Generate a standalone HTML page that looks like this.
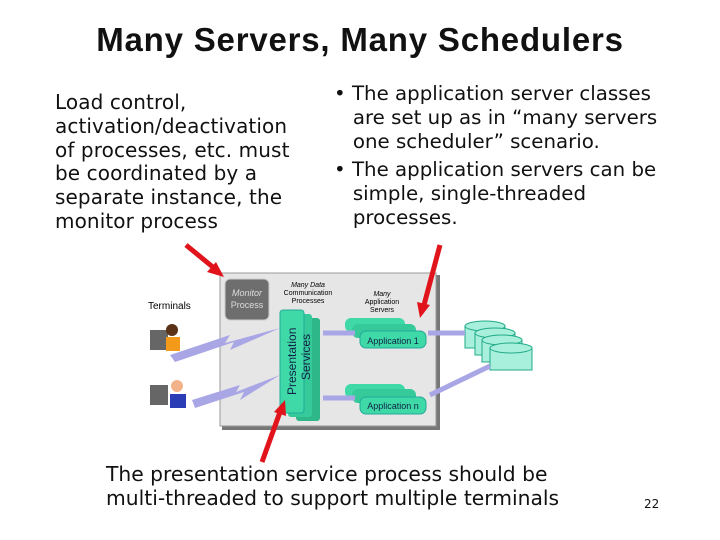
<!DOCTYPE html>
<html><head><style>
body{margin:0;width:720px;height:540px;background:#fff;position:relative;overflow:hidden;font-family:"DejaVu Sans","Liberation Sans",sans-serif;color:#111}
.t{position:absolute;white-space:nowrap}
</style></head><body>
<div class="t" style="left:0;width:720px;text-align:center;top:21px;font-size:33px;font-weight:bold;font-family:'Liberation Sans',sans-serif;letter-spacing:0.8px">Many Servers, Many Schedulers</div>
<div class="t" style="left:55px;top:91px;font-size:20px;line-height:23.8px;letter-spacing:0.1px">Load control,<br>activation/deactivation<br>of processes, etc. must<br>be coordinated by a<br>separate instance, the<br>monitor process</div>
<div class="t" style="left:334px;top:82px;font-size:19.8px;line-height:24px">•&nbsp;The application server classes<br>&nbsp;&nbsp;&nbsp;are set up as in “many servers<br>&nbsp;&nbsp;&nbsp;one scheduler” scenario.</div>
<div class="t" style="left:334px;top:158px;font-size:19.8px;line-height:24px">•&nbsp;The application servers can be<br>&nbsp;&nbsp;&nbsp;simple, single-threaded<br>&nbsp;&nbsp;&nbsp;processes.</div>
<div class="t" style="left:106px;top:462px;font-size:20.3px;line-height:24px">The presentation service process should be<br>multi-threaded to support multiple terminals</div>
<div class="t" style="left:644px;top:497px;font-size:12px">22</div>
<svg width="720" height="540" style="position:absolute;left:0;top:0" font-family="Liberation Sans,sans-serif">
<rect x="222" y="275" width="218" height="155" fill="#777"/>
<rect x="220" y="273" width="216" height="153" fill="#e6e6e6" stroke="#999"/>
<rect x="225" y="279" width="44" height="41" rx="5" fill="#6e6e6e" stroke="#ccc"/>
<text x="247" y="296" font-size="9" fill="#ddd" text-anchor="middle" font-style="italic">Monitor</text>
<text x="247" y="308" font-size="9" fill="#ddd" text-anchor="middle">Process</text>
<text x="308" y="287" font-size="7" text-anchor="middle" font-style="italic">Many Data</text>
<text x="308" y="295" font-size="7" text-anchor="middle">Communication</text>
<text x="308" y="303" font-size="7" text-anchor="middle">Processes</text>
<text x="382" y="296" font-size="7" text-anchor="middle" font-style="italic">Many</text>
<text x="382" y="304" font-size="7" text-anchor="middle">Application</text>
<text x="382" y="312" font-size="7" text-anchor="middle">Servers</text>
<text x="148" y="309" font-size="10">Terminals</text>
<rect x="296" y="318" width="24" height="103" rx="3" fill="#2eb88a"/>
<rect x="288" y="314" width="24" height="103" rx="3" fill="#36c99a"/>
<rect x="280" y="310" width="24" height="103" rx="3" fill="#3fd9a8" stroke="#2a9"/>
<text transform="translate(296,395) rotate(-90)" font-size="12" fill="#124">Presentation</text>
<text transform="translate(310,380) rotate(-90)" font-size="12" fill="#124">Services</text>
<rect x="345" y="318" width="60" height="14" rx="6" fill="#3fd9a8"/>
<rect x="352" y="324" width="64" height="14" rx="6" fill="#36c99a"/>
<rect x="360" y="331" width="66" height="17" rx="6" fill="#3fd9a8" stroke="#2a9"/>
<text x="393" y="344" font-size="9" text-anchor="middle" fill="#124">Application 1</text>
<rect x="345" y="384" width="60" height="14" rx="6" fill="#3fd9a8"/>
<rect x="352" y="389" width="64" height="14" rx="6" fill="#36c99a"/>
<rect x="360" y="397" width="66" height="17" rx="6" fill="#3fd9a8" stroke="#2a9"/>
<text x="393" y="409" font-size="9" text-anchor="middle" fill="#124">Application n</text>
<g fill="#a8f0dc" stroke="#2a8">
<rect x="465" y="326" width="40" height="22"/><ellipse cx="485" cy="326" rx="20" ry="5"/>
<rect x="475" y="333" width="40" height="22"/><ellipse cx="495" cy="333" rx="20" ry="5"/>
<rect x="482" y="340" width="40" height="22"/><ellipse cx="502" cy="340" rx="20" ry="5"/>
<rect x="490" y="348" width="42" height="22"/><ellipse cx="511" cy="348" rx="21" ry="5"/>
</g>
<g stroke="#a9a6e6" stroke-width="5" fill="none">
<line x1="323" y1="333" x2="355" y2="333"/><line x1="323" y1="398" x2="355" y2="398"/>
<line x1="428" y1="333" x2="465" y2="333"/><line x1="430" y1="395" x2="490" y2="366"/>
</g>
<polygon points="170,355 230,335 225,343 280,328 230,350 234,342 175,362" fill="#a9a6e6"/>
<polygon points="192,400 240,385 236,392 280,375 240,400 244,392 195,408" fill="#a9a6e6"/>
<rect x="150" y="330" width="18" height="20" fill="#666"/><circle cx="172" cy="330" r="6" fill="#5a3218"/><rect x="166" y="337" width="14" height="14" fill="#f39a1b"/>
<rect x="150" y="385" width="18" height="20" fill="#666"/><circle cx="177" cy="386" r="6" fill="#f2b38a"/><rect x="170" y="394" width="16" height="14" fill="#2b3db5"/>
<g stroke="#e0141a" stroke-width="5" fill="#e0141a">
<line x1="186" y1="245" x2="214" y2="268"/><polygon points="224,277 207,272 216,262" stroke="none"/>
<line x1="440" y1="245" x2="424" y2="305"/><polygon points="420,318 417,302 430,305" stroke="none"/>
<line x1="262" y1="462" x2="280" y2="412"/><polygon points="285,400 286,416 274,412" stroke="none"/>
</g>
</svg>
</body></html>
